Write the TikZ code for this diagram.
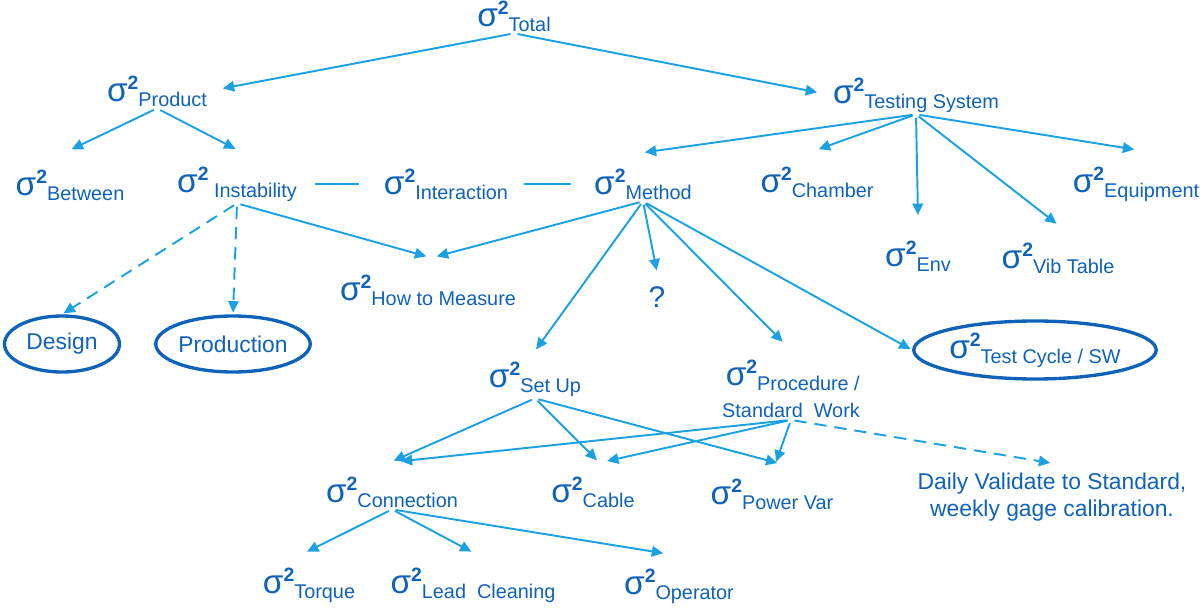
\documentclass[tikz,border=0pt]{standalone}
\usepackage{fontspec}
\setmainfont{Liberation Sans}
\usetikzlibrary{arrows.meta,shapes.geometric}
\definecolor{txtblue}{RGB}{14,98,184}
\definecolor{lineblue}{RGB}{27,161,226}
% sigma squared with a subscript
\newcommand{\sg}[1]{{\fontsize{19}{19}\selectfont σ}\raisebox{7pt}{\fontsize{11}{11}\selectfont\bfseries 2}\raisebox{-2.6pt}{\fontsize{11.3}{13}\selectfont #1}}
\begin{document}
\begin{tikzpicture}[x=0.02cm,y=-0.02cm,
    every node/.style={text=txtblue,font=\fontsize{13}{15}\selectfont,inner sep=1pt},
    arr/.style={draw=lineblue,line width=1.1pt,-{Triangle[length=6.5pt,width=6pt]},shorten <=2pt,shorten >=1pt},
    dsh/.style={arr,dash pattern=on 7pt off 4.5pt},
    link/.style={draw=lineblue,line width=1.1pt},
    oval/.style={ellipse,draw=txtblue,line width=1.9pt,inner sep=0pt}]
  \useasboundingbox (0,0) rectangle (1200,608);
  % top levels
  \node (tot) at (514,16) {\sg{Total}};
  \node (prod) at (157,91) {\sg{Product}};
  \node (ts) at (916,95) {\sg{Testing System}};
  \node (btw) at (70,185) {\sg{Between}};
  \node (inst) at (237,184) {\sg{ Instability}};
  \node (inter) at (446,184) {\sg{Interaction}};
  \node (meth) at (643,184) {\sg{Method}};
  \node (cham) at (817,182) {\sg{Chamber}};
  \node (equip) at (1136,184) {\sg{Equipment}};
  \node (env) at (918,256) {\sg{Env}};
  \node (vib) at (1058,258) {\sg{Vib Table}};
  \node (how) at (428,290) {\sg{How to Measure}};
  \node[font=\fontsize{17}{19}\selectfont] (q) at (657,297) {?};
  \node[oval,minimum width=2.3cm,minimum height=1.12cm] (des) at (62,344) {Design};
  \node[oval,minimum width=2.74cm,minimum height=1.12cm] (prodn) at (233,344) {Production};
  \node[oval,minimum width=4.2cm,minimum height=1.16cm] (tc) at (1035,350) {\sg{Test Cycle / SW}};
  % lower levels
  \node (setup) at (535,379) {\sg{Set Up}};
  \node[align=right] (proc) at (791,389) {\sg{Procedure /}\\[3pt]{\fontsize{11.3}{13}\selectfont Standard~ Work}};
  \node (conn) at (392,492) {\sg{Connection}};
  \node (cab) at (593,492) {\sg{Cable}};
  \node (pwr) at (772,494) {\sg{Power Var}};
  \node[align=center] (daily) at (1052,497) {Daily Validate to Standard,\\weekly gage calibration.};
  \node (torq) at (309,585) {\sg{Torque}};
  \node (lead) at (473,585) {\sg{Lead~~Cleaning}};
  \node (oper) at (679,586) {\sg{Operator}};

  \draw[arr,shorten >=8pt] (tot.south) -- (prod.east);
  \draw[arr,shorten >=8pt] (tot.south) -- (ts.west);
  \draw[arr] (prod.south) -- ([yshift=10pt]btw.north);
  \draw[arr] (prod.south) -- ([yshift=8.5pt]inst.north);
  \draw[arr] (ts.south) -- ([yshift=8pt]meth.north);
  \draw[arr] (ts.south) -- ([yshift=8.5pt]cham.north);
  \draw[arr] (ts.south) -- ([yshift=8.5pt]equip.north);
  \draw[arr] (ts.south) -- ([yshift=12.5pt]env.north);
  \draw[arr] (ts.south) -- ([yshift=9pt]vib.north);
  \draw[link,shorten <=9pt,shorten >=13pt] (inst.east) -- (inter.west);
  \draw[link,shorten <=8pt,shorten >=12pt] (inter.east) -- (meth.west);
  \draw[dsh] (inst.south) -- (des.north);
  \draw[dsh] (inst.south) -- (prodn.north);
  \draw[arr] (inst.south) -- ([yshift=9pt]how.north);
  \draw[arr] (meth.south) -- ([xshift=4pt,yshift=9pt]how.north);
  \draw[arr] (meth.south) -- ([yshift=7pt]q.north);
  \draw[arr] (meth.south) -- ([yshift=5pt]setup.north);
  \draw[arr] (meth.south) -- ([xshift=-4pt,yshift=8.5pt]proc.north);
  \draw[arr] (meth.south) -- (tc.west);
  \foreach \t/\dx in {conn/0,cab/3,pwr/4}
    \draw[arr] (setup.south) -- ([xshift=\dx pt,yshift=7.5pt]\t.north);
  \foreach \t/\dx in {conn/4,cab/7,pwr/2}
    \draw[arr] (proc.south) -- ([xshift=\dx pt,yshift=7.5pt]\t.north);
  \draw[dsh] (proc.south) -- ([yshift=4.5pt]daily.north);
  \draw[arr] (conn.south) -- ([xshift=-2pt,yshift=7.5pt]torq.north);
  \draw[arr] (conn.south) -- ([yshift=7.5pt]lead.north);
  \draw[arr] (conn.south) -- ([xshift=-8pt,yshift=7.5pt]oper.north);
\end{tikzpicture}
\end{document}
